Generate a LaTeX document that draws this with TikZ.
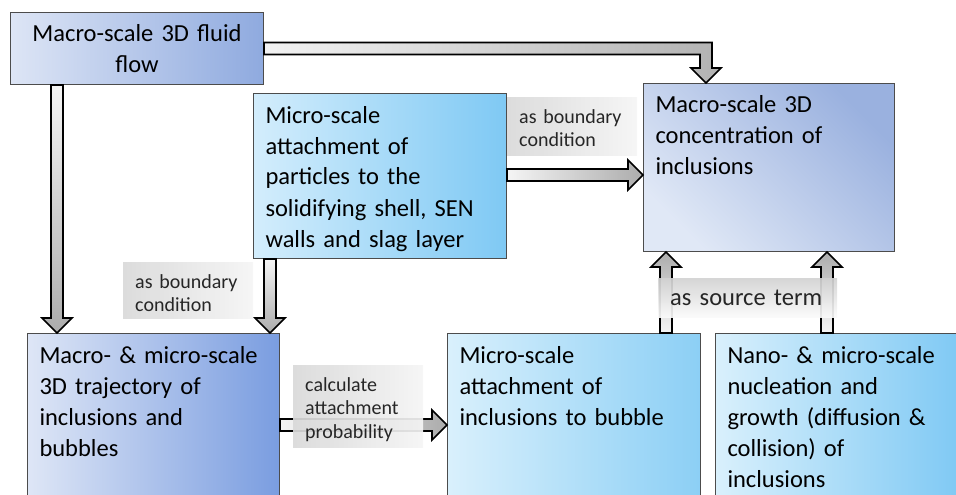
\documentclass[tikz,border=0pt]{standalone}
\usepackage{fontspec}
\setmainfont{Carlito}
\usetikzlibrary{calc}

\definecolor{fluidL}{HTML}{DDE5F5}
\definecolor{fluidR}{HTML}{8FAADF}
\definecolor{wallL}{HTML}{D3EDFC}
\definecolor{wallR}{HTML}{7FC9F4}
\definecolor{concB}{HTML}{E0E8F6}
\definecolor{concT}{HTML}{9AB1DF}
\definecolor{trajL}{HTML}{DEE6F6}
\definecolor{trajR}{HTML}{7A9DE0}
\definecolor{bubL}{HTML}{D9F0FC}
\definecolor{bubR}{HTML}{8CCFF5}

% fat arrow from #2 to #3, #1 = shading
\newcommand{\fatarrow}[3][]{%
  \coordinate (hb) at ($(#3)!15pt!(#2)$);
  \shade[arrowfill,#1] ($(#2)!6pt!90:(#3)$) -- ($(hb)!6pt!90:(#3)$) -- ($(hb)!15pt!90:(#3)$) -- (#3)
    -- ($(hb)!15pt!-90:(#3)$) -- ($(hb)!6pt!-90:(#3)$) -- ($(#2)!6pt!-90:(#3)$) -- cycle;}

\begin{document}
\begin{tikzpicture}[x=1pt, y=-1pt,
box/.style={draw=black!70, line width=1pt, anchor=north west, align=left, inner xsep=12pt, inner ysep=8pt,
  text height=21.5pt, font=\fontsize{24.5}{31}\selectfont},
tag/.style={anchor=north west, align=left, inner xsep=12pt, inner ysep=0pt, text width=106pt, text height=26pt,
  text=black!85, font=\fontsize{20}{23.5}\selectfont, left color=gray!30, right color=gray!8, fill opacity=.92, text opacity=1},
arrowfill/.style={draw=black, line width=1.6pt}]
\useasboundingbox (0,0) rectangle (956,495);
\clip (0,0) rectangle (956,495);

% boxes
\node[box, align=center, text width=229pt, text depth=34.5pt, left color=fluidL, right color=fluidR] (A) at (10,12) {Macro-scale 3D fluid\\flow};
\node[box, text width=229pt, text depth=127.5pt, left color=wallL, right color=wallR] (B) at (253,93) {Micro-scale\\attachment of\\particles to the\\solidifying shell, SEN\\walls and slag layer};
\node[box, text width=227pt, text depth=130.5pt, top color=concT, bottom color=concB, shading angle=-45] (C) at (643,83) {Macro-scale 3D\\concentration of\\inclusions};
\node[box, text width=228pt, text depth=142.5pt, left color=trajL, right color=trajR] (D) at (27,333) {Macro- \& micro-scale\\3D trajectory of\\inclusions and\\bubbles};
\node[box, text width=229pt, text depth=142.5pt, left color=bubL, right color=bubR] (E) at (447,333) {Micro-scale\\attachment of\\inclusions to bubble};
\node[box, text width=221pt, text depth=142.5pt, left color=bubL, right color=wallR] (F) at (715,333) {Nano- \& micro-scale\\nucleation and\\growth (diffusion \&\\collision) of\\inclusions};

% arrows
\coordinate (cin) at ($(C.north west)!.25!(C.north east)$);
\coordinate (bend) at (A.east -| cin);
\shade[arrowfill, left color=gray!10, right color=gray!60] ($(A.east)+(0,-6)$) -- ($(bend)+(6,-6)$) -- ($(cin)+(6,-15)$) -- ($(cin)+(15,-15)$)
  -- (cin) -- ($(cin)+(-15,-15)$) -- ($(cin)+(-6,-15)$) -- ($(bend)+(-6,6)$) -- ($(A.east)+(0,6)$) -- cycle;
\coordinate (s2) at ($(A.south west)+(47,0)$);
\coordinate (t2) at (s2 |- D.north);
\fatarrow[top color=gray!8, bottom color=gray!65]{s2}{t2}
\coordinate (s3) at ($(B.south west)+(17,0)$);
\coordinate (t3) at (s3 |- D.north);
\fatarrow[top color=gray!8, bottom color=gray!65]{s3}{t3}
\coordinate (s4) at ($(B.north east)+(0,82)$);
\coordinate (t4) at (s4 -| C.west);
\fatarrow[left color=gray!8, right color=gray!65]{s4}{t4}
\coordinate (s5) at ($(D.north east)+(0,92)$);
\coordinate (t5) at (s5 -| E.west);
\fatarrow[left color=gray!8, right color=gray!65]{s5}{t5}
\coordinate (s6) at ($(E.north west)+(219,0)$);
\coordinate (t6) at (s6 |- C.south);
\fatarrow[bottom color=gray!8, top color=gray!65]{s6}{t6}
\coordinate (s7) at ($(F.north west)+(112,0)$);
\coordinate (t7) at (s7 |- C.south);
\fatarrow[bottom color=gray!8, top color=gray!65]{s7}{t7}

% labels
\node[tag, text depth=32pt] (bc1) at (507,97) {as boundary\\condition};
\node[tag, text depth=30pt] (bc2) at (123,262) {as boundary\\condition};
\node[tag, text depth=56pt] (prob) at (293,365) {calculate\\attachment\\probability};
\node[tag, text depth=12pt, text height=27pt, text width=155pt, top color=gray!35, bottom color=gray!4,
  font=\fontsize{24.5}{31}\selectfont] (src) at (658,278) {as source term};
\end{tikzpicture}
\end{document}
